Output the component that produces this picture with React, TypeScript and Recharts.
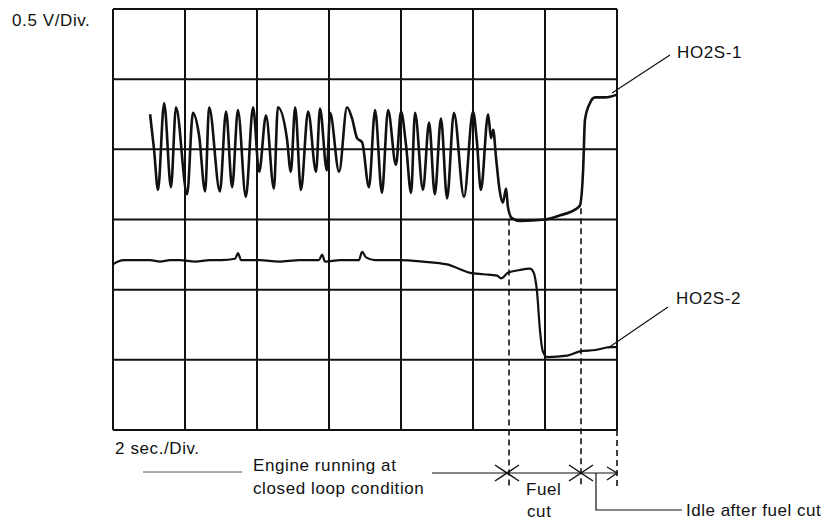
import { LineChart, Line, XAxis, YAxis, ReferenceLine } from "recharts";

// time in seconds (2 sec/div), voltage in volts (0.5 V/div)
const xTicks = [0, 2, 4, 6, 8, 10, 12, 14];
const yTicks = [0, 0.5, 1, 1.5, 2, 2.5, 3];

const ho2s1Time = [
  1.03, 1.14, 1.25, 1.42, 1.61, 1.75, 2.06, 2.22, 2.39, 2.56, 2.67, 2.97, 3.14, 3.31, 3.47, 3.69,
  3.89, 4.06, 4.25, 4.47, 4.58, 4.83, 4.94, 5.06, 5.22, 5.42, 5.64, 5.75, 5.94, 6.03, 6.28, 6.5,
  6.64, 6.78, 6.92, 7.11, 7.28, 7.47, 7.64, 7.86, 8.0, 8.14, 8.28, 8.39, 8.61, 8.78, 8.94, 9.11,
  9.28, 9.47, 9.75, 10.0, 10.11, 10.22, 10.42, 10.5, 10.56, 10.64, 10.75, 10.83, 10.92, 10.97,
  11.08, 11.31, 12.0, 12.42, 12.83, 12.97, 13.06, 13.11, 13.25, 13.39, 13.67, 14.0,
];
const ho2s1Volt = [
  2.25, 2.0, 1.71, 2.33, 1.73, 2.3, 1.68, 2.26, 2.1, 1.7, 2.3, 1.7, 2.27, 1.73, 2.28, 1.66,
  2.3, 1.84, 2.24, 1.72, 2.3, 2.08, 1.84, 2.3, 1.71, 2.27, 1.84, 2.29, 1.85, 2.26, 1.84, 2.3,
  2.22, 2.08, 2.05, 1.73, 2.28, 1.69, 2.28, 1.89, 2.27, 2.03, 1.69, 2.26, 1.71, 2.19, 1.68, 2.22,
  1.65, 2.26, 1.66, 2.27, 2.05, 1.71, 2.25, 2.08, 2.14, 1.94, 1.69, 1.62, 1.72, 1.59,
  1.51, 1.49, 1.5, 1.53, 1.57, 1.6, 1.86, 2.21, 2.33, 2.37, 2.37, 2.39,
];

const ho2s2Time = [
  0, 0.14, 0.33, 0.61, 1.03, 1.31, 1.58, 1.86, 2.28, 2.69, 3.0, 3.39, 3.47, 3.56, 4.08, 4.6,
  5.19, 5.72, 5.81, 5.89, 6.31, 6.83, 6.92, 7.03, 7.28, 7.97, 8.6, 9.28, 9.92, 10.3, 10.67, 10.78,
  10.97, 11.3, 11.58, 11.67, 11.78, 11.86, 11.94, 12.06, 12.61, 12.97, 13.4, 13.81, 14.0,
];
const ho2s2Volt = [
  1.18, 1.2, 1.21, 1.21, 1.21, 1.2, 1.21, 1.21, 1.2, 1.21, 1.21, 1.22, 1.26, 1.21, 1.21, 1.2,
  1.21, 1.21, 1.25, 1.2, 1.21, 1.21, 1.27, 1.23, 1.21, 1.21, 1.2, 1.18, 1.12, 1.11, 1.1, 1.08,
  1.12, 1.14, 1.15, 1.13, 0.98, 0.71, 0.56, 0.52, 0.53, 0.56, 0.57, 0.59, 0.59,
];

// fuel cut start, fuel cut end, end of record
const eventTimes = [11, 13, 14];
const eventTop = [1.5, 1.58, 0];
const eventBottom = -0.41;

const ho2s1 = ho2s1Time.map((t, i) => ({ t, v: ho2s1Volt[i] }));
const ho2s2 = ho2s2Time.map((t, i) => ({ t, v: ho2s2Volt[i] }));

const ink = "#111";
const font = "'Liberation Sans', Arial, sans-serif";

export default function App() {
  const txt = { fontFamily: font, fontSize: 17, letterSpacing: 0.6, fill: ink };
  return (
    <div style={{ position: "relative", width: 813, height: 513 }}>
      <LineChart
        width={813}
        height={505}
        margin={{ top: 1, right: 204, bottom: 83, left: 105 }}
      >
        <XAxis type="number" dataKey="t" domain={[0, 14]} ticks={xTicks} hide />
        <YAxis type="number" dataKey="v" domain={[0, 3]} ticks={yTicks} hide />
        {xTicks.map((x) => (
          <ReferenceLine key={"x" + x} x={x} stroke={ink} strokeWidth={2} />
        ))}
        {yTicks.map((y) => (
          <ReferenceLine key={"y" + y} y={y} stroke={ink} strokeWidth={2} />
        ))}
        {eventTimes.map((t, i) => (
          <ReferenceLine
            key={"e" + t}
            segment={[
              { x: t, y: eventTop[i] },
              { x: t, y: eventBottom },
            ]}
            ifOverflow="visible"
            stroke={ink}
            strokeWidth={1.6}
            strokeDasharray="6 4"
          />
        ))}
        <Line
          data={ho2s1}
          dataKey="v"
          type="monotone"
          stroke={ink}
          strokeWidth={2.6}
          dot={false}
          isAnimationActive={false}
        />
        <Line
          data={ho2s2}
          dataKey="v"
          type="monotone"
          stroke={ink}
          strokeWidth={2.2}
          dot={false}
          isAnimationActive={false}
        />
      </LineChart>
      <svg
        width={813}
        height={513}
        style={{ position: "absolute", left: 0, top: 0, pointerEvents: "none" }}
      >
        <text x={4} y={18} {...txt}>0.5 V/Div.</text>
        <text x={107} y={446} {...txt}>2 sec./Div.</text>
        <text x={245} y={463} {...txt}>Engine running at</text>
        <text x={245} y={486} {...txt}>closed loop condition</text>
        <line x1={135} y1={464} x2={234} y2={464} stroke="#555" strokeWidth={1} />
        <line x1={424} y1={465} x2={609} y2={465} stroke={ink} strokeWidth={1.2} />
        {[499, 573].map((cx) => (
          <g key={cx}>
            <line x1={cx - 12} y1={457} x2={cx + 12} y2={473} stroke={ink} strokeWidth={1.5} />
            <line x1={cx - 12} y1={473} x2={cx + 12} y2={457} stroke={ink} strokeWidth={1.5} />
          </g>
        ))}
        <polyline points="599,459 609,465 599,472" fill="none" stroke={ink} strokeWidth={1.3} />
        <text x={518} y={487} {...txt}>Fuel</text>
        <text x={519} y={509} {...txt}>cut</text>
        <polyline points="588,465 588,502 674,502" fill="none" stroke={ink} strokeWidth={1.2} />
        <text x={678} y={508} {...txt} letterSpacing={0.5}>Idle after fuel cut</text>
        <text x={669} y={50} {...txt}>HO2S-1</text>
        <line x1={662} y1={47} x2={604} y2={85} stroke={ink} strokeWidth={1.2} />
        <text x={668} y={296} {...txt}>HO2S-2</text>
        <line x1={660} y1={299} x2={600} y2={340} stroke={ink} strokeWidth={1.2} />
      </svg>
    </div>
  );
}
